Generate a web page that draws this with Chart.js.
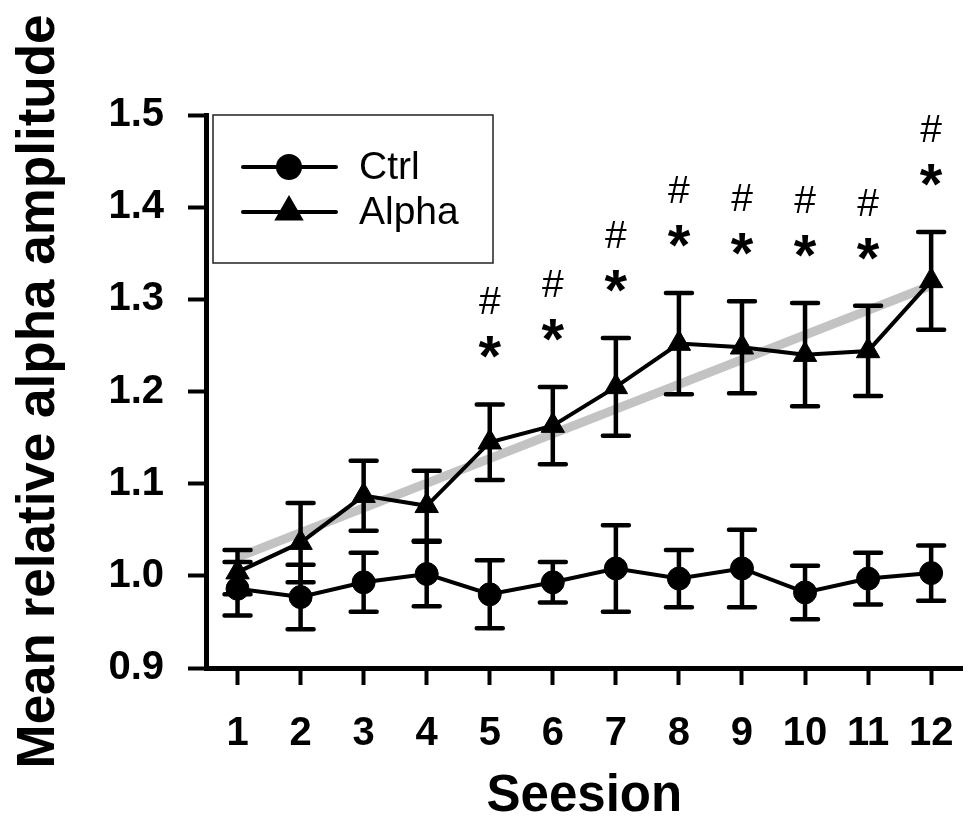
<!DOCTYPE html>
<html lang="en">
<head>
<meta charset="UTF-8">
<title>Mean relative alpha amplitude</title>
<script src="https://cdn.jsdelivr.net/npm/chart.js"></script>
<style>
  body { margin: 0; background: #fff; }
  canvas { display: block; }
</style>
</head>
<body>
<canvas id="chart" width="979" height="832"></canvas>
<script>
// Sessions and group means with error bars
const sessions = [1, 2, 3, 4, 5, 6, 7, 8, 9, 10, 11, 12];
const ctrlMean = [0.986, 0.977, 0.993, 1.002, 0.980, 0.993, 1.008, 0.997, 1.008, 0.982, 0.997, 1.003];
const ctrlErr  = [0.029, 0.035, 0.032, 0.035, 0.037, 0.022, 0.047, 0.031, 0.042, 0.029, 0.028, 0.030];
const alphaMean = [1.004, 1.036, 1.087, 1.076, 1.145, 1.163, 1.205, 1.252, 1.248, 1.240, 1.244, 1.320];
const alphaErr  = [0.024, 0.043, 0.038, 0.038, 0.041, 0.042, 0.053, 0.055, 0.050, 0.056, 0.049, 0.053];
// grey linear trend of the Alpha group
const trendX = [1, 12];
const trendY = [1.02, 1.315];
// sessions marked with * and #
const sigSessions = [5, 6, 7, 8, 9, 10, 11, 12];
const yTicks = [0.9, 1.0, 1.1, 1.2, 1.3, 1.4, 1.5];

const FONT = '"Liberation Sans", Arial, sans-serif';
Chart.defaults.font.family = FONT;
Chart.defaults.color = '#000';

const toXY = (xs, ys) => xs.map((v, i) => ({ x: v, y: ys[i] }));

// error bars drawn on top of the lines
const errorBars = {
  id: 'errorBars',
  afterDatasetsDraw(chart) {
    const { ctx, scales: { x, y } } = chart;
    ctx.save();
    ctx.strokeStyle = '#000';
    ctx.lineWidth = 4.5;
    ctx.lineCap = 'round';
    [[ctrlMean, ctrlErr], [alphaMean, alphaErr]].forEach(([m, e]) => {
      sessions.forEach((s, i) => {
        const px = x.getPixelForValue(s);
        const top = y.getPixelForValue(m[i] + e[i]);
        const bot = y.getPixelForValue(m[i] - e[i]);
        ctx.beginPath();
        ctx.moveTo(px, top); ctx.lineTo(px, bot);
        ctx.moveTo(px - 13, top); ctx.lineTo(px + 13, top);
        ctx.moveTo(px - 13, bot); ctx.lineTo(px + 13, bot);
        ctx.stroke();
      });
    });

    // significance marks above the Alpha error bars
    ctx.fillStyle = '#000';
    ctx.textAlign = 'center';
    ctx.textBaseline = 'alphabetic';
    sigSessions.forEach(s => {
      const i = sessions.indexOf(s);
      const px = x.getPixelForValue(s);
      const top = y.getPixelForValue(alphaMean[i] + alphaErr[i]);
      ctx.font = 'bold 58px ' + FONT;
      ctx.fillText('*', px, top - 61 + 33);
      ctx.font = '39px ' + FONT;
      ctx.fillText('#', px, top - 104 + 14);
    });
    ctx.restore();
  }
};

// boxed legend with line + marker samples
const boxLegend = {
  id: 'boxLegend',
  afterDraw(chart) {
    const { ctx } = chart;
    ctx.save();
    ctx.strokeStyle = '#222';
    ctx.lineWidth = 1.5;
    ctx.strokeRect(213, 115, 280, 148);
    const items = [
      { label: 'Ctrl', style: 'circle', y: 167 },
      { label: 'Alpha', style: 'triangle', y: 212 }
    ];
    items.forEach(it => {
      ctx.strokeStyle = '#000';
      ctx.lineWidth = 4;
      ctx.lineCap = 'round';
      ctx.beginPath();
      ctx.moveTo(243, it.y); ctx.lineTo(336, it.y);
      ctx.stroke();
      ctx.fillStyle = '#000';
      Chart.helpers.drawPoint(ctx, {
        pointStyle: it.style,
        radius: it.style === 'circle' ? 11 : 13,
        borderWidth: 1
      }, 289, it.y);
      ctx.font = '39px ' + FONT;
      ctx.textAlign = 'left';
      ctx.textBaseline = 'middle';
      ctx.fillText(it.label, 359, it.y + 1);
    });
    ctx.restore();
  }
};

new Chart(document.getElementById('chart'), {
  type: 'line',
  data: {
    datasets: [
      {
        label: 'Ctrl',
        data: toXY(sessions, ctrlMean),
        borderColor: '#000',
        backgroundColor: '#000',
        borderWidth: 4,
        pointStyle: 'circle',
        pointRadius: 11.5,
        pointBorderWidth: 1,
        order: 1
      },
      {
        label: 'Alpha',
        data: toXY(sessions, alphaMean),
        borderColor: '#000',
        backgroundColor: '#000',
        borderWidth: 4,
        pointStyle: 'triangle',
        pointRadius: 13.5,
        pointBorderWidth: 1,
        order: 1
      },
      {
        label: 'trend',
        data: toXY(trendX, trendY),
        borderColor: '#c3c3c3',
        borderWidth: 9,
        pointRadius: 0,
        order: 3
      }
    ]
  },
  options: {
    responsive: false,
    animation: false,
    devicePixelRatio: 1,
    layout: { padding: { top: 115, right: 3, left: 0, bottom: 0 } },
    plugins: {
      legend: { display: false },
      tooltip: { enabled: false }
    },
    scales: {
      x: {
        type: 'linear',
        min: 0.5,
        max: 12.5,
        afterBuildTicks: scale => { scale.ticks = sessions.map(v => ({ value: v })); },
        afterFit: scale => { scale.height = 164; },
        ticks: {
          font: { size: 40, weight: 'bold' },
          padding: 25,
          callback: v => String(v)
        },
        grid: { drawOnChartArea: false, tickLength: 17, tickWidth: 4, color: '#000' },
        border: { display: true, width: 5, color: '#000' },
        title: {
          display: true,
          text: 'Seesion',
          font: { size: 51, weight: 'bold' },
          padding: { top: 0, bottom: 4 }
        }
      },
      y: {
        min: 0.9,
        max: 1.5,
        afterBuildTicks: scale => { scale.ticks = yTicks.map(v => ({ value: v })); },
        afterFit: scale => { scale.width = 206; },
        ticks: {
          font: { size: 40, weight: 'bold' },
          padding: 24,
          callback: v => v.toFixed(1)
        },
        grid: { drawOnChartArea: false, tickLength: 18, tickWidth: 4, color: '#000' },
        border: { display: true, width: 5, color: '#000' },
        title: {
          display: true,
          text: 'Mean relative alpha amplitude',
          font: { size: 53, weight: 'bold' },
          padding: { top: 8, bottom: 0 }
        }
      }
    }
  },
  plugins: [errorBars, boxLegend]
});
</script>
</body>
</html>
